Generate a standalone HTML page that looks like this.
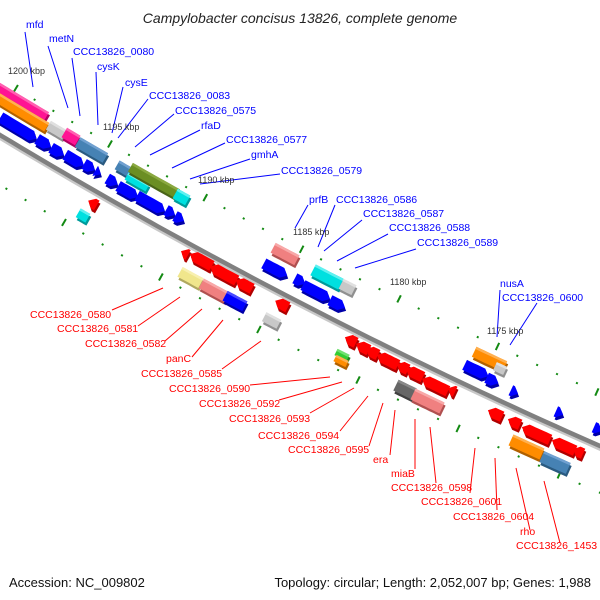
<!DOCTYPE html>
<html><head><meta charset="utf-8"><style>
html,body{margin:0;padding:0;background:#fff;}
svg{display:block;}
.bl{fill:#0000ff;font:10.5px "Liberation Sans",sans-serif;}
.rl{fill:#ff0000;font:10.5px "Liberation Sans",sans-serif;}
.kb{fill:#333;font:9px "Liberation Sans",sans-serif;}
</style></head><body>
<svg id="s" width="600" height="600" viewBox="0 0 600 600" xmlns="http://www.w3.org/2000/svg">
<rect width="600" height="600" fill="#fff"/>
<g id="ticks"></g>
<g id="bb"></g>
<g id="feats"></g>
<g stroke="#0000ff" stroke-width="1" fill="none">
<line x1="25" y1="32" x2="33" y2="87"/>
<line x1="48" y1="46" x2="68" y2="108"/>
<line x1="72" y1="58" x2="80" y2="116"/>
<line x1="96" y1="72" x2="98" y2="125"/>
<line x1="123" y1="87" x2="112" y2="133"/>
<line x1="148" y1="99" x2="118" y2="138"/>
<line x1="174" y1="114" x2="135" y2="147"/>
<line x1="200" y1="130" x2="150" y2="155"/>
<line x1="225" y1="143" x2="172" y2="168"/>
<line x1="250" y1="159" x2="190" y2="179"/>
<line x1="280" y1="174" x2="200" y2="184"/>
<line x1="308" y1="205" x2="295" y2="228"/>
<line x1="335" y1="205" x2="318" y2="247"/>
<line x1="362" y1="220" x2="324" y2="251"/>
<line x1="388" y1="234" x2="337" y2="261"/>
<line x1="416" y1="249" x2="355" y2="268"/>
<line x1="500" y1="290" x2="497" y2="337"/>
<line x1="537" y1="303" x2="510" y2="345"/>
</g>
<g stroke="#ff0000" stroke-width="1" fill="none">
<line x1="112" y1="310" x2="163" y2="288"/>
<line x1="138" y1="326" x2="180" y2="297"/>
<line x1="165" y1="341" x2="202" y2="309"/>
<line x1="192" y1="357" x2="223" y2="320"/>
<line x1="222" y1="369" x2="261" y2="341"/>
<line x1="250" y1="385" x2="330" y2="377"/>
<line x1="279" y1="400" x2="342" y2="382"/>
<line x1="310" y1="413" x2="354" y2="388"/>
<line x1="340" y1="431" x2="368" y2="396"/>
<line x1="369" y1="446" x2="383" y2="403"/>
<line x1="390" y1="455" x2="395" y2="410"/>
<line x1="415" y1="469" x2="415" y2="419"/>
<line x1="436" y1="483" x2="430" y2="427"/>
<line x1="470" y1="493" x2="475" y2="448"/>
<line x1="497" y1="510" x2="495" y2="458"/>
<line x1="530" y1="530" x2="516" y2="468"/>
<line x1="560" y1="543" x2="544" y2="481"/>
</g>
<text x="300" y="23" text-anchor="middle" style="font:italic 14px 'Liberation Sans',sans-serif;fill:#222">Campylobacter concisus 13826, complete genome</text>
<text class="bl" x="26" y="28">mfd</text>
<text class="bl" x="49" y="42">metN</text>
<text class="bl" x="73" y="55">CCC13826_0080</text>
<text class="bl" x="97" y="70">cysK</text>
<text class="bl" x="125" y="86">cysE</text>
<text class="bl" x="149" y="99">CCC13826_0083</text>
<text class="bl" x="175" y="114">CCC13826_0575</text>
<text class="bl" x="201" y="129">rfaD</text>
<text class="bl" x="226" y="143">CCC13826_0577</text>
<text class="bl" x="251" y="158">gmhA</text>
<text class="bl" x="281" y="174">CCC13826_0579</text>
<text class="bl" x="309" y="203">prfB</text>
<text class="bl" x="336" y="203">CCC13826_0586</text>
<text class="bl" x="363" y="217">CCC13826_0587</text>
<text class="bl" x="389" y="231">CCC13826_0588</text>
<text class="bl" x="417" y="246">CCC13826_0589</text>
<text class="bl" x="500" y="287">nusA</text>
<text class="bl" x="502" y="301">CCC13826_0600</text>
<text class="kb" x="8" y="74">1200 kbp</text>
<text class="kb" x="103" y="130">1195 kbp</text>
<text class="kb" x="198" y="183">1190 kbp</text>
<text class="kb" x="293" y="235">1185 kbp</text>
<text class="kb" x="390" y="285">1180 kbp</text>
<text class="kb" x="487" y="334">1175 kbp</text>
<text class="rl" x="30" y="318">CCC13826_0580</text>
<text class="rl" x="57" y="332">CCC13826_0581</text>
<text class="rl" x="85" y="347">CCC13826_0582</text>
<text class="rl" x="166" y="362">panC</text>
<text class="rl" x="141" y="377">CCC13826_0585</text>
<text class="rl" x="169" y="392">CCC13826_0590</text>
<text class="rl" x="199" y="407">CCC13826_0592</text>
<text class="rl" x="229" y="422">CCC13826_0593</text>
<text class="rl" x="258" y="439">CCC13826_0594</text>
<text class="rl" x="288" y="453">CCC13826_0595</text>
<text class="rl" x="373" y="463">era</text>
<text class="rl" x="391" y="477">miaB</text>
<text class="rl" x="391" y="491">CCC13826_0598</text>
<text class="rl" x="421" y="505">CCC13826_0601</text>
<text class="rl" x="453" y="520">CCC13826_0604</text>
<text class="rl" x="520" y="535">rho</text>
<text class="rl" x="516" y="549">CCC13826_1453</text>
<text x="9" y="587" style="font:13px 'Liberation Sans',sans-serif;fill:#111">Accession: NC_009802</text>
<text x="591" y="587" text-anchor="end" style="font:13px 'Liberation Sans',sans-serif;fill:#111">Topology: circular; Length: 2,052,007 bp; Genes: 1,988</text>
</svg>
<script>
(function(){
var NS="http://www.w3.org/2000/svg";
var P=[[0,135],[295,300],[600,446]];
var ax=P[0][0],ay=P[0][1],bx=P[1][0],by=P[1][1],qx=P[2][0],qy=P[2][1];
var d=2*(ax*(by-qy)+bx*(qy-ay)+qx*(ay-by));
var cx=((ax*ax+ay*ay)*(by-qy)+(bx*bx+by*by)*(qy-ay)+(qx*qx+qy*qy)*(ay-by))/d;
var cy=((ax*ax+ay*ay)*(qx-bx)+(bx*bx+by*by)*(ax-qx)+(qx*qx+qy*qy)*(bx-ax))/d;
var R=Math.hypot(ax-cx,ay-cy);
function polar(x,y){return [Math.atan2(y-cy,x-cx),Math.hypot(x-cx,y-cy)];}
function pt(a,r){return [cx+r*Math.cos(a),cy+r*Math.sin(a)];}
function arc(a1,a2,r){var n=8,o=[];for(var i=0;i<=n;i++){o.push(pt(a1+(a2-a1)*i/n,r));}return o;}
function el(tag,at,par){var e=document.createElementNS(NS,tag);for(var k in at)e.setAttribute(k,at[k]);par.appendChild(e);return e;}
function ps(p){return p.map(function(q){return q[0].toFixed(1)+","+q[1].toFixed(1);}).join(" ");}
var bb=document.getElementById("bb");
var aL=polar(-20,125)[0],aR=polar(620,460)[0];
function arcPath(r){var n=60,s="";for(var i=0;i<=n;i++){var p=pt(aL+(aR-aL)*i/n,r);s+=(i?"L":"M")+p[0].toFixed(1)+" "+p[1].toFixed(1);}return s;}
el("path",{d:arcPath(R+3),stroke:"#c8c8c8","stroke-width":3,fill:"none"},bb);
el("path",{d:arcPath(R),stroke:"#808080","stroke-width":4.5,fill:"none"},bb);
var tg=document.getElementById("ticks");
var u0=polar(110,144),u1=polar(596,394);
var step=(u0[0]-u1[0])/25;
var l0=polar(358,380);
function ring(a0,r){
 for(var k=-40;k<=40;k++){
  var a=a0-k*step;var c=pt(a,r);
  if(c[0]<-5||c[0]>605||c[1]<40||c[1]>560)continue;
  var L=(k%5==0)?4:1;
  var p1=pt(a,r-L),p2=pt(a,r+L);
  el("line",{x1:p1[0],y1:p1[1],x2:p2[0],y2:p2[1],stroke:"#138a13","stroke-width":2},tg);
 }
}
ring(u0[0],u0[1]);ring(l0[0],l0[1]);
var C={b:["#0000ff","#0000a8","#4a4aff"],r:["#ff0000","#b00000","#ff5050"],pk:["#ff1493","#b00060","#ff60b0"],o:["#ff8c00","#b06000","#ffb050"],g:["#c8c8c8","#909090","#e0e0e0"],st:["#4682b4","#2a5a80","#70a0d0"],ol:["#6b8e23","#4a6418","#8aa840"],cy:["#00e0e0","#009a9a","#60f0f0"],sa:["#f08080","#b05050","#f8a8a8"],kh:["#f0e68c","#b0a860","#f8f0b0"],dg:["#666666","#404040","#888888"],gr:["#33cc33","#1f801f","#70e070"]};
var fg=document.getElementById("feats");
function feat(x1,y1,x2,y2,w,c,t){
 w+=2;
 var A=polar(x1,y1),B=polar(x2,y2);var a1=A[0],a2=B[0],r=(A[1]+B[1])/2,ri=r-w/2,ro=r+w/2;
 var len=Math.abs(a1-a2)*r,h=Math.min(6,len),ha=h/r*(a2>a1?1:-1),pts;
 if(t=="x"){pts=arc(a1,a2,ri).concat(arc(a2,a1,ro));}
 else if(t=="f"){var b=a2-ha;pts=arc(a1,b,ri).concat([pt(a2,r)],arc(b,a1,ro));}
 else {var b2=a1+ha;pts=[pt(a1,r)].concat(arc(b2,a2,ri),arc(a2,b2,ro));}
 var s=ps(pts);
 el("polygon",{points:s,fill:C[c][1],transform:"translate(1,3)"},fg);
 el("polygon",{points:s,fill:C[c][0]},fg);
 if(t=="x"){el("polygon",{points:ps(arc(a1,a2,ri).concat(arc(a2,a1,ri+2.5))),fill:C[c][2]},fg);}
}
[[0,118,37,138],[37,139,51,147],[51,148,64,155],[65,155,84,165],[84,164,95,170],[95,171,101,174],
 [107,179,118,184],[118,186,138,197],[137,196,165,211],[166,210,175,215],[175,216,184,221],
 [264,263,287,276],[295,278,305,284],[303,285,330,299],[330,300,345,308],
 [465,364,488,377],[487,377,498,384],[511,390,518,394],[556,411,563,415],[594,427,602,431]
].forEach(function(f){feat(f[0],f[1],f[2],f[3],9,"b","f");});
feat(-10,85,48,114,7,"pk","x");
feat(-10,96,48,125,8,"o","x");
feat(48,126,65,134,8,"g","x");
feat(64,133,78,140,9,"pk","x");
feat(77,143,106,157,9,"st","x");
feat(117,165,130,172,8,"st","x");
feat(126,177,148,187,6,"cy","x");
feat(130,168,178,193,8,"ol","x");
feat(175,194,188,200,9,"cy","x");
feat(273,248,297,260,9,"sa","x");
feat(313,270,341,284,10,"cy","x");
feat(341,284,354,290,9,"g","x");
feat(474,352,505,366,9,"o","x");
feat(495,366,505,371,7,"g","x");
[[88,201,97,205],[181,251,188,255],[190,254,212,266],[210,267,237,280],[236,280,252,289],
 [275,301,288,307],[345,337,356,343],[356,344,369,350],[366,349,378,355],[377,355,398,365],
 [397,364,408,370],[406,369,423,377],[422,379,448,391],[448,388,455,392],
 [488,410,502,417],[508,419,520,425],[522,427,550,440],[552,440,575,451],[573,449,583,454]
].forEach(function(f){feat(f[0],f[1],f[2],f[3],9,"r","r");});
feat(78,213,88,218,8,"cy","x");
feat(180,272,201,283,9,"kh","x");
feat(201,284,228,297,9,"sa","x");
feat(225,296,245,306,9,"b","x");
feat(264,317,279,324,8,"g","x");
feat(336,352,348,358,5,"gr","x");
feat(335,358,347,364,5,"o","x");
feat(396,385,414,394,10,"dg","x");
feat(413,394,442,408,10,"sa","x");
feat(511,440,542,454,10,"o","x");
feat(542,456,568,469,10,"st","x");
})();
</script>
</body></html>
